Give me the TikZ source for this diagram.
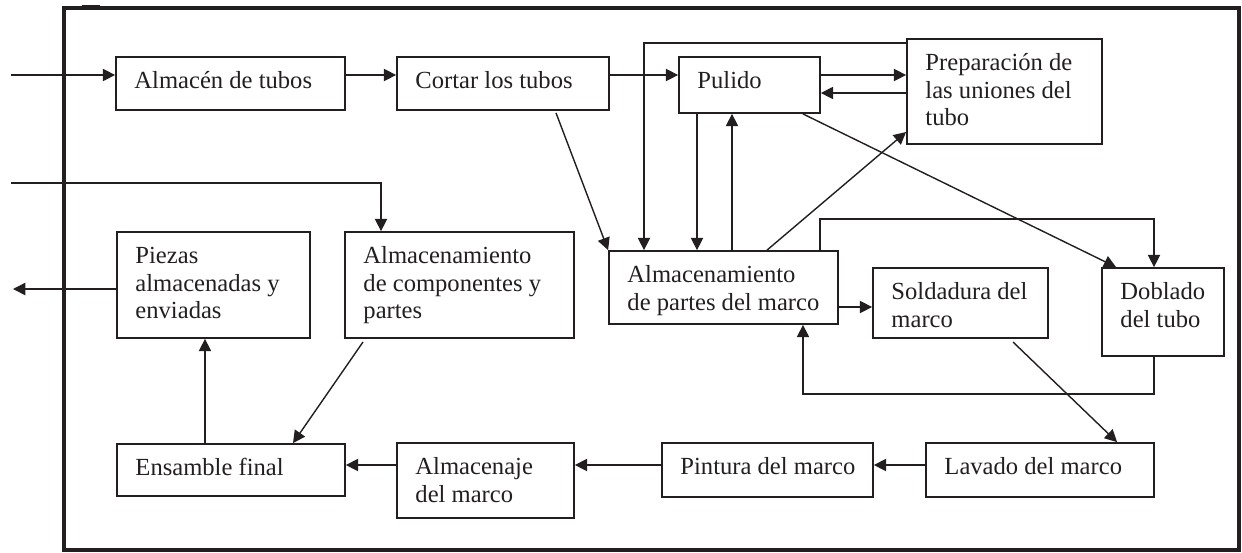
\documentclass[tikz,border=0pt]{standalone}
\usepackage{fontspec}
\setmainfont{Liberation Serif}
\usetikzlibrary{fit,arrows.meta,calc}
\definecolor{ink}{RGB}{35,31,32}
\tikzset{
  box/.style={draw=ink, line width=1.0pt, inner sep=0pt, rectangle},
  lbl/.style={anchor=base west, inner sep=0pt, text=ink,
    font=\fontsize{14}{15.9}\selectfont},
  arr/.style={draw=ink, line width=0.8pt, -{Triangle[length=7pt,width=7pt]}},
  frame/.style={draw=ink, line width=1.8pt}
}
\newcommand\mybox[6]{%
  \coordinate (#1-a) at (#2,#3);
  \coordinate (#1-b) at (#4,#5);
  \node[box, fit=(#1-a) (#1-b)] (#1) {};
  \node[lbl] at ([shift={(19,32)}]#1.north west)
    {\begin{tabular}[t]{@{}l@{}}#6\end{tabular}};
}
\begin{document}
\begin{tikzpicture}[x=0.02cm,y=-0.02cm]
\useasboundingbox (0,0) rectangle (1242,552);
% frame
\draw[frame] (64,8) rectangle (1239,550);
\draw[draw=ink, line width=2.8pt] (64,8) -- (64,550);
\fill[ink] (82,5) rectangle (100,10);
% boxes
\mybox{alm}{116}{57}{345}{110}{Almacén de tubos}
\mybox{cort}{397}{57}{609}{110}{Cortar los tubos}
\mybox{pul}{679}{57}{820}{113}{Pulido}
\mybox{prep}{907}{39}{1102}{144}{Preparación de\\las uniones del\\tubo}
\mybox{piez}{117}{232}{310}{338}{Piezas\\almacenadas y\\enviadas}
\mybox{comp}{345}{232}{574}{338}{Almacenamiento\\de componentes y\\partes}
\mybox{almp}{609}{251}{838}{324}{Almacenamiento\\de partes del marco}
\mybox{sold}{873}{268}{1048}{338}{Soldadura del\\marco}
\mybox{dob}{1102}{268}{1224}{356}{Doblado\\del tubo}
\mybox{ens}{117}{444}{345}{496}{Ensamble final}
\mybox{almj}{397}{443}{574}{518}{Almacenaje\\del marco}
\mybox{pint}{662}{443}{873}{497}{Pintura del marco}
\mybox{lav}{926}{443}{1154}{497}{Lavado del marco}
% free ends and bends
\coordinate (in1) at (11,75);
\coordinate (in2) at (11,183);
\coordinate (out) at (13,289);
\coordinate (t1) at (644,43);
\coordinate (t2) at (820,219);
\coordinate (t3) at (1154,219);
\coordinate (t4) at (1154,394);
\coordinate (t5) at (803,394);
% connectors
\draw[arr] (in1) -- (in1 -| alm.west);
\draw[arr] (alm.east |- in1) -- (cort.west |- in1);
\draw[arr] (cort.east |- in1) -- (pul.west |- in1);
\draw[arr] (pul.east |- in1) -- (prep.west |- in1);
\draw[arr] (prep.west |- 0,93) -- (pul.east |- 0,93);
\draw[arr] (prep.west |- t1) -- (t1) -- (t1 |- almp.north);
\draw[arr] (pul.south -| 697,0) -- (almp.north -| 697,0);
\draw[arr] (almp.north -| 732,0) -- (pul.south -| 732,0);
\draw[arr] ($(cort.south)+(53,2)$) -- (almp.north west);
\draw[arr] (almp.north -| 767,0) -- (prep.west |- 0,132);
\draw[arr] ($(pul.south east)+(-18,0)$) -- ($(dob.north west)+(15,0)$);
\draw[arr] (almp.north -| t2) -- (t2) -- (t3) -- (dob.north -| t3);
\draw[arr] (almp.east |- 0,307) -- (sold.west |- 0,307);
\draw[arr] (dob.south -| t4) -- (t4) -- (t5) -- (almp.south -| t5);
\draw[arr] (1013,342) -- ($(lav.north west)+(192,0)$);
\draw[arr] (lav.west |- 0,465) -- (pint.east |- 0,465);
\draw[arr] (pint.west |- 0,465) -- (almj.east |- 0,465);
\draw[arr] (almj.west |- 0,465) -- (ens.east |- 0,465);
\draw[arr] (363,342) -- (ens.north -| 293,0);
\draw[arr] (ens.north -| 205,0) -- (piez.south -| 205,0);
\draw[arr] (piez.west |- out) -- (out);
\draw[arr] (in2) -- (in2 -| 381,0) -- (comp.north -| 381,0);
\end{tikzpicture}
\end{document}
